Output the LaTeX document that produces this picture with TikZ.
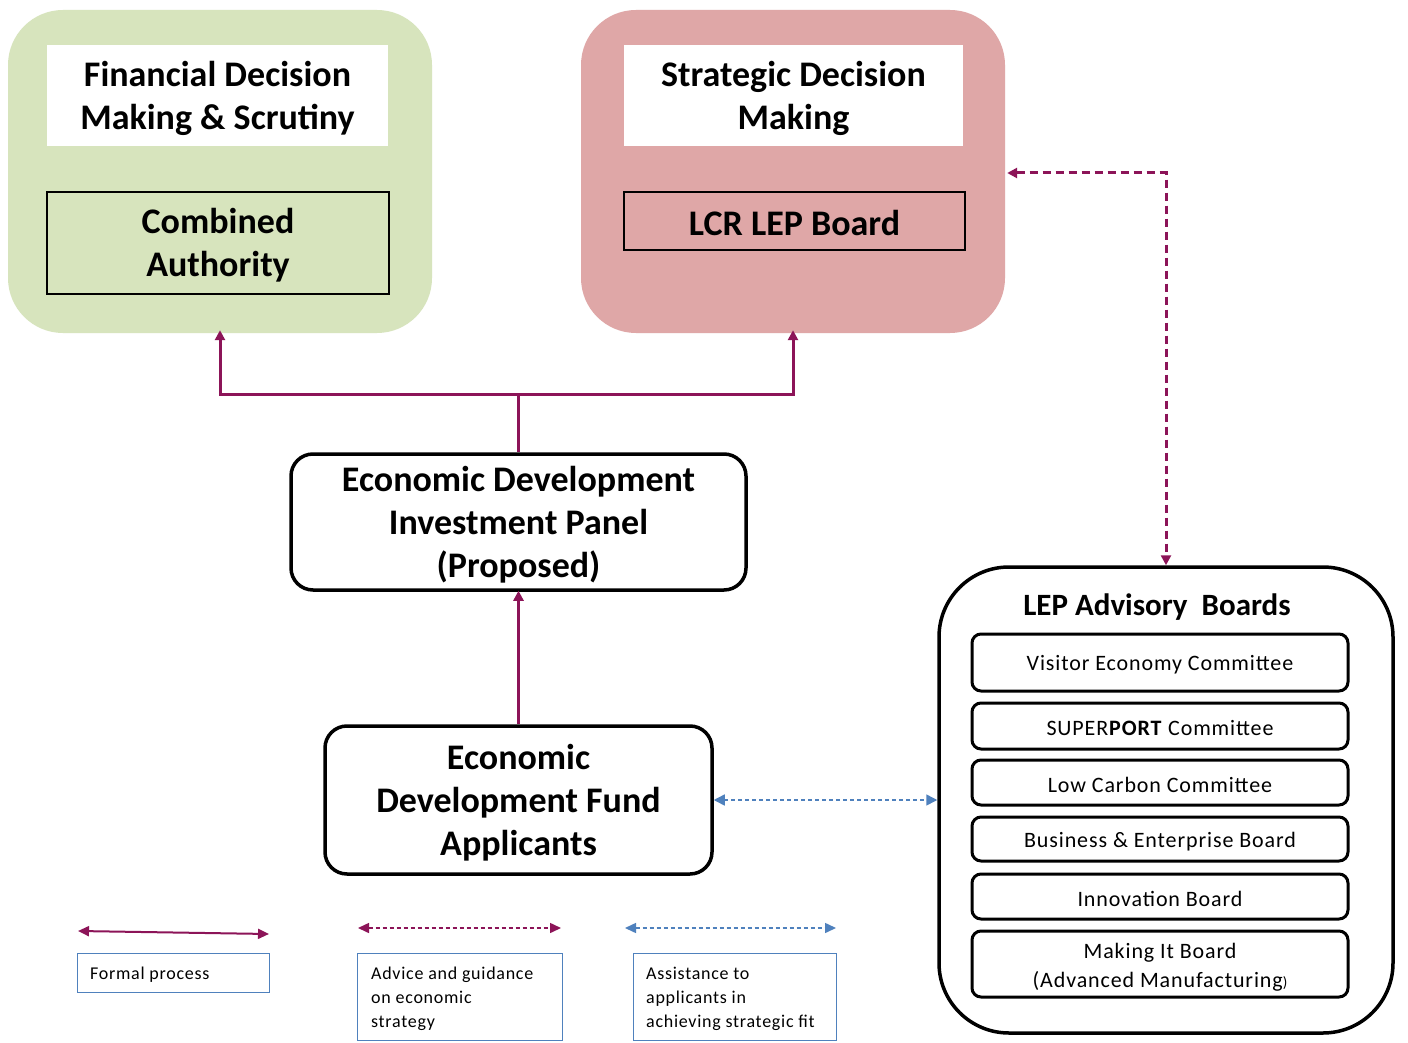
\documentclass[tikz,border=0pt]{standalone}
\usepackage{fontspec}
\setmainfont{Carlito}
\usetikzlibrary{arrows.meta}
\definecolor{grn}{HTML}{D7E4BD}
\definecolor{rd}{HTML}{DFA7A7}
\definecolor{prp}{HTML}{8C1458}
\definecolor{blu}{HTML}{4F81BD}
\begin{document}
\begin{tikzpicture}[x=1pt,y=-1pt,
  group/.style={rounded corners=55pt, minimum width=424pt, minimum height=323pt, inner sep=0pt},
  headbox/.style={fill=white, minimum width=341pt, minimum height=101pt, inner sep=0pt},
  bodybox/.style={draw=black, line width=2.5pt, minimum width=342pt, inner sep=0pt},
  panel/.style={draw=black, line width=3.5pt, rounded corners=22pt, inner sep=0pt},
  bigtxt/.style={inner sep=0pt, align=center, font=\fontsize{36}{43}\selectfont\bfseries},
  board/.style={draw=black, line width=3pt, rounded corners=9pt, minimum width=376pt, inner sep=0pt},
  boardtxt/.style={inner sep=0pt, align=center, font=\fontsize{22}{29}\selectfont\addfontfeature{LetterSpace=4}},
  legbox/.style={draw=blu, line width=1pt, inner sep=0pt},
  legtxt/.style={inner sep=0pt, align=left, font=\fontsize{18}{24}\selectfont\addfontfeature{LetterSpace=4}},
  formalone/.style={draw=prp, line width=3pt, -{Triangle[length=10pt,width=10pt]}},
  advice/.style={draw=prp, line width=3pt, dash pattern=on 8pt off 5pt, {Triangle[length=10pt,width=10pt]}-{Triangle[length=10pt,width=10pt]}},
  assist/.style={draw=blu, line width=1.5pt, dash pattern=on 4pt off 3pt, {Triangle[length=11pt,width=11pt]}-{Triangle[length=11pt,width=11pt]}},
  legtip/.style={{Triangle[length=11pt,width=10pt]}-{Triangle[length=11pt,width=10pt]}}
]
\fill[white] (0,0) rectangle (1408,1043);
\useasboundingbox (0,0) rectangle (1408,1043);

% top groups
\node[group, fill=grn] (green) at (220,171.5) {};
\node[headbox] (fdm) at (217.5,95.5) {};
\node[bigtxt] (fdmt) at (217.5,98) {Financial Decision\\Making \& Scrutiny};
\node[bodybox, fill=grn, minimum height=102pt] (ca) at (218,243) {};
\node[bigtxt] (cat) at (218,245.5) {Combined\\Authority};

\node[group, fill=rd] (red) at (793,171.5) {};
\node[headbox, minimum width=339pt] (sdm) at (793.5,95.5) {};
\node[bigtxt] (sdmt) at (793.5,98) {Strategic Decision\\Making};
\node[bodybox, fill=rd, minimum width=341pt, minimum height=58pt] (lcr) at (794.5,221) {};
\node[bigtxt] (lcrt) at (794.5,223) {LCR LEP Board};

% middle
\node[panel, minimum width=455pt, minimum height=136pt] (edip) at (518.5,522) {};
\node[bigtxt] (edipt) at (518.5,525) {Economic Development\\Investment Panel\\(Proposed)};
\node[panel, minimum width=387pt, minimum height=148pt] (edf) at (518.5,800) {};
\node[bigtxt] (edft) at (518.5,802.5) {Economic\\Development Fund\\Applicants};

% advisory boards
\node[draw=black, line width=3.5pt, rounded corners=70pt, minimum width=454pt, minimum height=466pt, inner sep=0pt] (lep) at (1166,800) {};
\node[font=\fontsize{31}{36}\selectfont\bfseries, inner sep=0pt] (leptitle) at (1157,607) {LEP Advisory~ Boards};
\node[board, minimum height=57pt] (b1) at (1160,662.5) {};
\node[boardtxt] (b1t) at (1160,665) {Visitor Economy Committee};
\node[board, minimum height=46pt] (b2) at (1160,726) {};
\node[boardtxt] (b2t) at (1160,728.5) {SUPER\textbf{PORT} Committee};
\node[board, minimum height=45pt] (b3) at (1160,782.5) {};
\node[boardtxt] (b3t) at (1160,785) {Low Carbon Committee};
\node[board, minimum height=44pt] (b4) at (1160,839) {};
\node[boardtxt] (b4t) at (1160,841.5) {Business \& Enterprise Board};
\node[board, minimum height=45pt] (b5) at (1160,896.5) {};
\node[boardtxt] (b5t) at (1160,899) {Innovation Board};
\node[board, minimum height=66pt] (b6) at (1160,964) {};
\node[boardtxt] (b6t) at (1160,967) {Making It Board\\(Advanced Manufacturing{\fontsize{15}{15}\selectfont)}};

% connectors
\coordinate (split) at (518.5,394);
\draw[formalone] (edip.north) -- (split) -| ([yshift=3pt]green.south);
\draw[formalone] (split) -| ([yshift=3pt]red.south);
\draw[formalone] (edf.north) -- ([yshift=1pt]edip.south);
\draw[advice] ([xshift=2pt]red.east |- 0,173) -| (lep.north);
\draw[assist] (edf.east) -- (lep.west);

% legend
\coordinate (l1a) at (78,931); \coordinate (l1b) at (269,934);
\draw[draw=prp, line width=2pt, legtip] (l1a) -- (l1b);
\coordinate (l2a) at (358,928); \coordinate (l2b) at (561,928);
\draw[draw=prp, line width=1.5pt, dash pattern=on 4pt off 3pt, legtip] (l2a) -- (l2b);
\coordinate (l3a) at (625,928); \coordinate (l3b) at (836,928);
\draw[draw=blu, line width=1.5pt, dash pattern=on 4pt off 3pt, legtip] (l3a) -- (l3b);

\node[legbox, minimum width=192pt, minimum height=39pt] (lg1) at (173,972.5) {};
\node[legtxt, anchor=west] (lg1t) at (90,975) {Formal process};
\node[legbox, minimum width=205pt, minimum height=87pt] (lg2) at (459.5,996.5) {};
\node[legtxt, anchor=west] (lg2t) at (371,999) {Advice and guidance\\on economic\\strategy};
\node[legbox, minimum width=203pt, minimum height=87pt] (lg3) at (734.5,996.5) {};
\node[legtxt, anchor=west] (lg3t) at (646,999) {Assistance to\\applicants in\\achieving strategic fit};
\end{tikzpicture}
\end{document}
